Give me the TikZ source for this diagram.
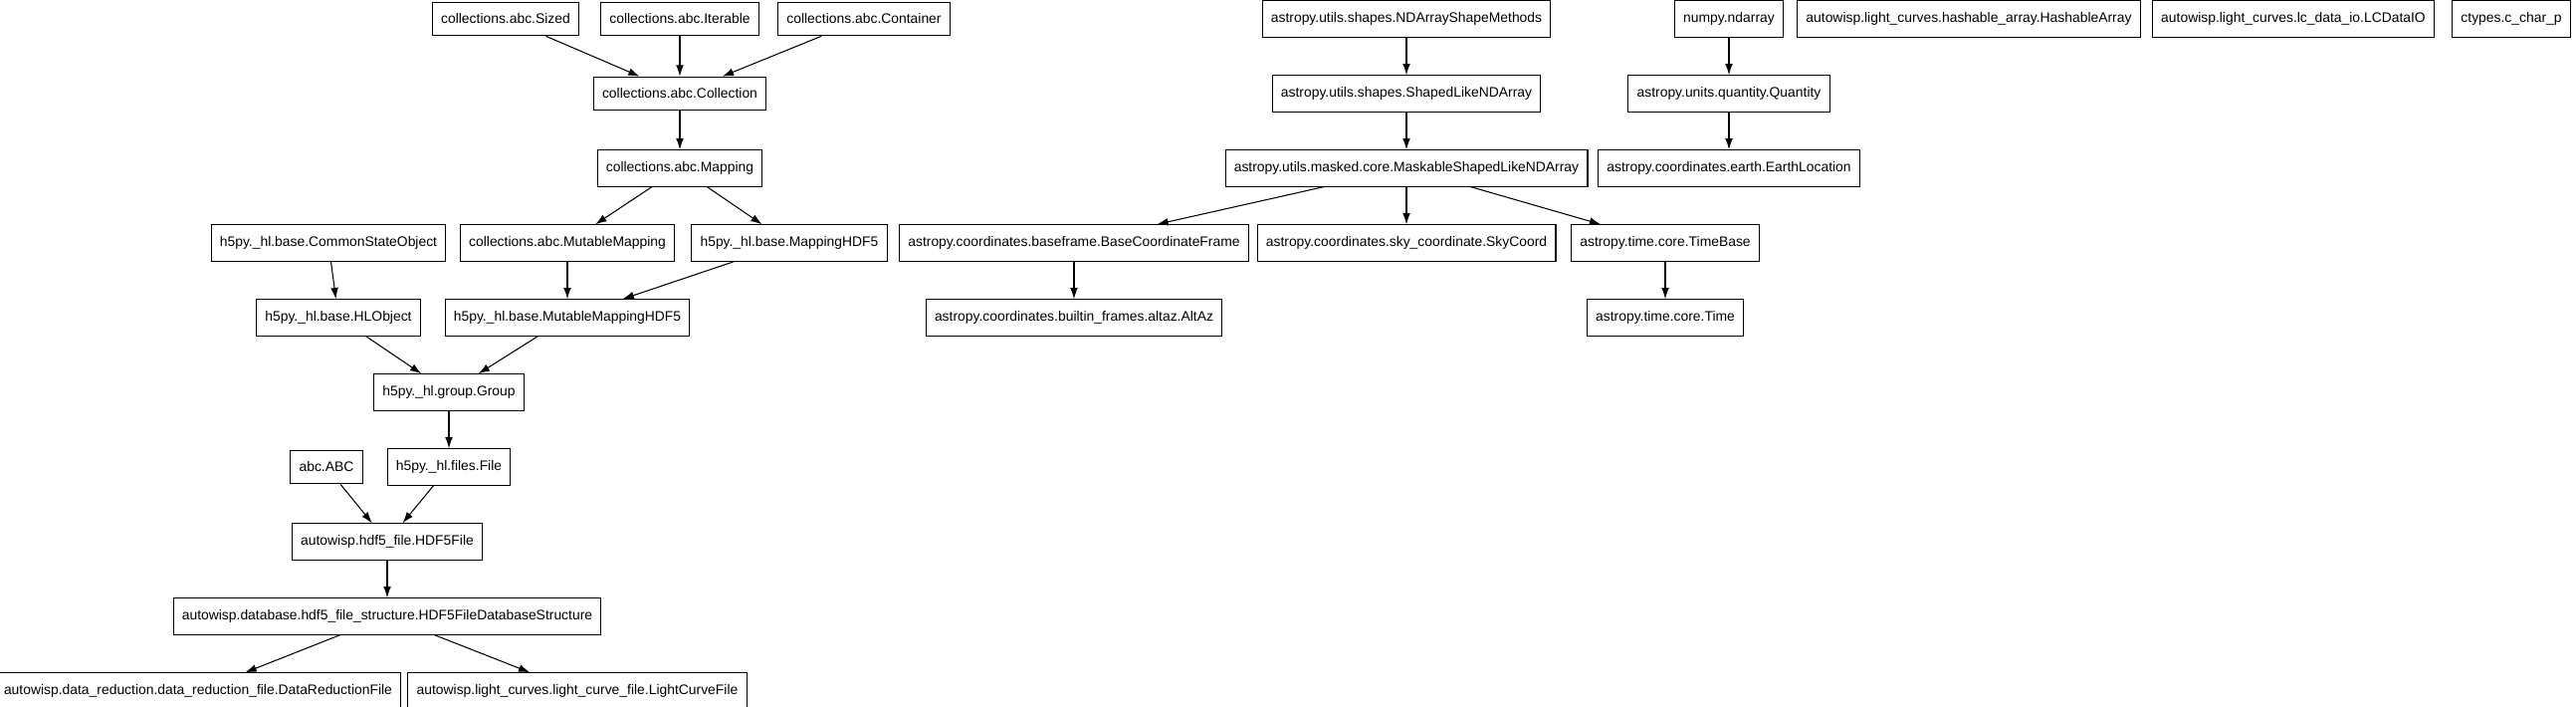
\documentclass[tikz,border=0pt]{standalone}
\usepackage{fontspec}
\setmainfont{Liberation Sans}
\usetikzlibrary{arrows.meta,positioning}
\tikzset{
cls/.style={draw, line width=0.3pt, inner xsep=2.5pt, minimum height=0.27cm, font=\fontsize{3.95}{5}\selectfont},
inh/.style={-{Latex[length=3.2pt,width=2.2pt]}, line width=0.3pt}
}
\begin{document}
\begin{tikzpicture}[x=0.01cm, y=-0.01cm]
    \useasboundingbox (0,0) rectangle (2588,709);
    % collections / h5py / autowisp
    \node[cls] (sized) at (508,19) {collections.abc.Sized};
    \node[cls] (iter) at (683,19) {collections.abc.Iterable};
    \node[cls] (cont) at (868,19) {collections.abc.Container};
    \node[cls] (coll) at (683,94) {collections.abc.Collection};
    \node[cls] (map) at (683,169) {collections.abc.Mapping};
    \node[cls] (cso) at (330,244) {h5py.\_hl.base.CommonStateObject};
    \node[cls] (mmap) at (570,244) {collections.abc.MutableMapping};
    \node[cls] (maph) at (793,244) {h5py.\_hl.base.MappingHDF5};
    \node[cls] (hlo) at (340,319) {h5py.\_hl.base.HLObject};
    \node[cls] (mmaph) at (570,319) {h5py.\_hl.base.MutableMappingHDF5};
    \node[cls] (group) at (451,394) {h5py.\_hl.group.Group};
    \node[cls] (abc) at (328,469) {abc.ABC};
    \node[cls] (file) at (451,469) {h5py.\_hl.files.File};
    \node[cls] (hfile) at (389,544) {autowisp.hdf5\_file.HDF5File};
    \node[cls] (dbs) at (389,619) {autowisp.database.hdf5\_file\_structure.HDF5FileDatabaseStructure};
    \node[cls] (drf) at (199,694) {autowisp.data\_reduction.data\_reduction\_file.DataReductionFile};
    \node[cls] (lcf) at (580,694) {autowisp.light\_curves.light\_curve\_file.LightCurveFile};
    % astropy
    \node[cls] (ndsm) at (1413,19) {astropy.utils.shapes.NDArrayShapeMethods};
    \node[cls] (shaped) at (1413,94) {astropy.utils.shapes.ShapedLikeNDArray};
    \node[cls] (mask) at (1413,169) {astropy.utils.masked.core.MaskableShapedLikeNDArray};
    \node[cls] (bcf) at (1079,244) {astropy.coordinates.baseframe.BaseCoordinateFrame};
    \node[cls] (sky) at (1413,244) {astropy.coordinates.sky\_coordinate.SkyCoord};
    \node[cls] (tbase) at (1673,244) {astropy.time.core.TimeBase};
    \node[cls] (altaz) at (1079,319) {astropy.coordinates.builtin\_frames.altaz.AltAz};
    \node[cls] (time) at (1673,319) {astropy.time.core.Time};
    \node[cls] (nd) at (1737,19) {numpy.ndarray};
    \node[cls] (qty) at (1737,94) {astropy.units.quantity.Quantity};
    \node[cls] (earth) at (1737,169) {astropy.coordinates.earth.EarthLocation};
    % standalone classes
    \node[cls] (hash) at (1978,19) {autowisp.light\_curves.hashable\_array.HashableArray};
    \node[cls] (lcio) at (2304,19) {autowisp.light\_curves.lc\_data\_io.LCDataIO};
    \node[cls] (cchar) at (2523,19) {ctypes.c\_char\_p};
    % inheritance
    \foreach \a/\b in {sized/coll, iter/coll, cont/coll, coll/map, map/mmap, map/maph,
        cso/hlo, mmap/mmaph, maph/mmaph, hlo/group, mmaph/group, group/file,
        abc/hfile, file/hfile, hfile/dbs, dbs/drf, dbs/lcf,
        ndsm/shaped, shaped/mask, mask/bcf, mask/sky, mask/tbase, bcf/altaz,
        tbase/time, nd/qty, qty/earth}
        \draw[inh] (\a) -- (\b);
\end{tikzpicture}
\end{document}
